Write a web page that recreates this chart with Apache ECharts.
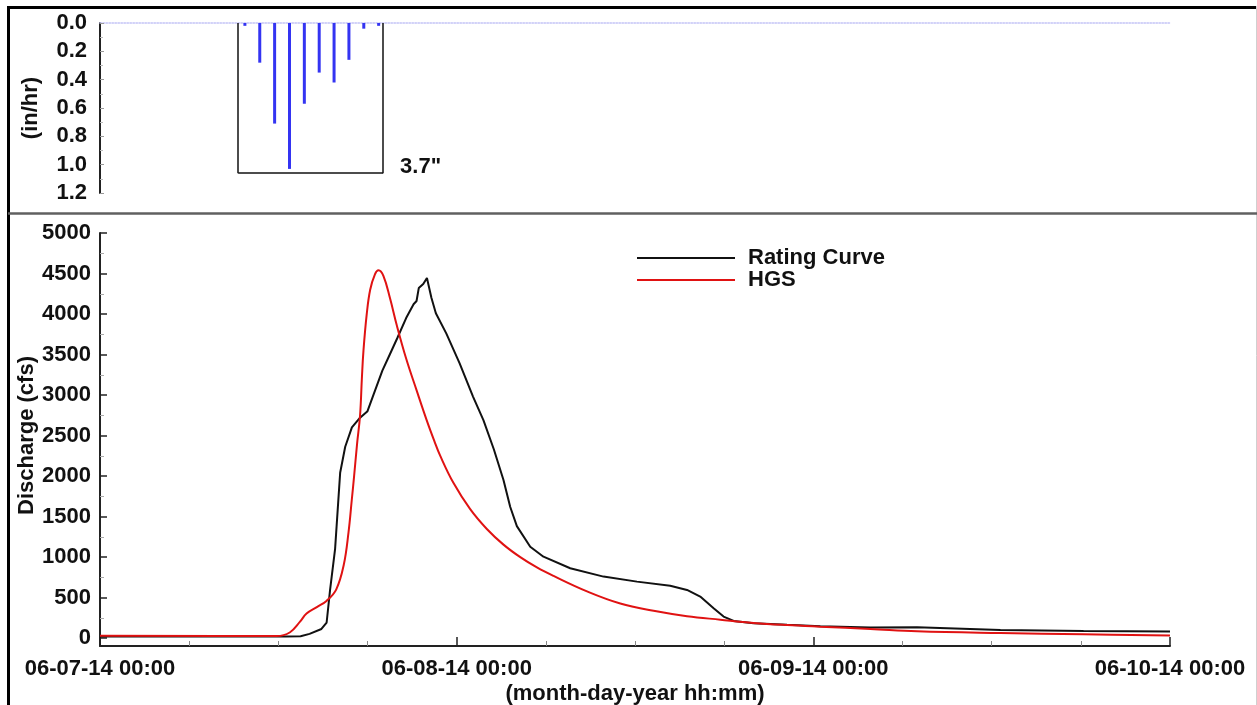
<!DOCTYPE html>
<html>
<head>
<meta charset="utf-8">
<title>Discharge and rainfall, June 7-10 2014</title>
<script src="https://cdn.jsdelivr.net/npm/echarts@6/dist/echarts.min.js"></script>
<style>
  html, body { margin: 0; padding: 0; background: #ffffff; }
  #chart { width: 1257px; height: 705px; }
</style>
</head>
<body>
<div id="chart"></div>
<script>
// ---- data -------------------------------------------------------------
// time is in hours after 06-07-14 00:00
const dayLabels = ['06-07-14 00:00', '06-08-14 00:00', '06-09-14 00:00', '06-10-14 00:00'];

// hourly rainfall intensity (in/hr)
const rainHours = [9.75, 10.75, 11.75, 12.75, 13.75, 14.75, 15.75, 16.75, 17.75, 18.75];
const rainRate  = [0.02, 0.28, 0.71, 1.03, 0.57, 0.35, 0.42, 0.26, 0.04, 0.02];

// storm window (hours) and bracket depth (in/hr)
const stormWindow = [9.3, 19.05];
const stormDepth = 1.06;

// discharge from the rating curve (cfs)
const ratingHours = [0, 12.5, 13.5, 14.1, 14.9, 15.25, 15.48, 15.82, 16.16, 16.5, 16.95, 17.5, 18.0, 18.4,
  19.0, 19.5, 20.0, 20.6, 21.1, 21.3, 21.45, 21.75, 22.0, 22.3, 22.6, 23.3, 24.2, 25.1, 25.8, 26.5,
  27.15, 27.6, 28.05, 28.95, 29.84, 31.64, 33.88, 36.13, 38.37, 39.5, 40.39, 41.29, 41.96, 42.64,
  43.98, 46.23, 48.47, 51.84, 54.98, 60.59, 66.18, 72];
const ratingFlow = [18, 18, 20, 50, 110, 190, 590, 1100, 2040, 2360, 2600, 2720, 2800, 3000,
  3300, 3500, 3700, 3950, 4120, 4160, 4320, 4370, 4445, 4200, 4010, 3760, 3390, 2980, 2690, 2330,
  1950, 1620, 1380, 1126, 1003, 860, 757, 695, 645, 592, 510, 366, 263, 210,
  181, 162, 145, 127, 132, 99, 86, 78];

// discharge simulated by HGS (cfs)
const hgsHours = [0, 11.9, 12.79, 13.46, 13.9, 14.59, 15.26, 15.9, 16.4, 16.72, 16.94, 17.1, 17.3, 17.5,
  17.62, 17.73, 17.95, 18.18, 18.5, 18.74, 19.07, 19.52, 19.97, 20.6, 21.3, 21.98, 22.5, 22.89,
  23.78, 24.91, 26.03, 27.15, 28.28, 29.4, 30.52, 32.77, 35.01, 37.25, 39.5, 41.74, 43.98, 46.23,
  48.47, 51.84, 54.98, 60.59, 66.18, 72];
const hgsFlow = [28, 22, 70, 200, 300, 380, 460, 600, 900, 1300, 1700, 2000, 2400, 2750,
  3200, 3550, 4000, 4300, 4490, 4540, 4470, 4190, 3860, 3450, 3060, 2690, 2430, 2250,
  1915, 1590, 1345, 1152, 997, 870, 765, 575, 425, 335, 268, 225, 185, 158,
  138, 111, 82, 60, 45, 30];

// ---- helpers ----------------------------------------------------------
const pairs = (xs, ys) => xs.map((x, i) => [x, ys[i]]);
const stormTotal = rainRate.reduce((s, v) => s + v, 0); // one-hour intervals

const FONT = '"Liberation Sans", Arial, Helvetica, sans-serif';
const txt = (size) => ({ fontFamily: FONT, fontWeight: 'bold', fontSize: size, color: '#111' });

const chart = echarts.init(document.getElementById('chart'), null, { renderer: 'canvas' });

const option = {
  backgroundColor: '#ffffff',
  animation: false,
  grid: [
    { left: 100, right: 87, top: 23, height: 170, outerBoundsMode: 'none' },   // rainfall
    { left: 100, right: 87, top: 233, bottom: 59, outerBoundsMode: 'none' },   // discharge (plot area)
    { left: 100, right: 87, top: 233, bottom: 67, outerBoundsMode: 'none' }    // discharge tick scale (0..5000)
  ],
  legend: {
    left: 632, top: 242, orient: 'vertical',
    icon: 'rect', itemWidth: 98, itemHeight: 2, itemGap: 0,
    textStyle: Object.assign(txt(22), { lineHeight: 22, padding: [0, 0, 0, 8] }),
    data: ['Rating Curve', 'HGS']
  },
  xAxis: [
    {
      gridIndex: 0, type: 'value', min: 0, max: 72, interval: 24,
      axisLine: { show: true, onZero: true, lineStyle: { color: '#c4c4f6', width: 1.5, type: 'dotted' } },
      axisTick: { show: false }, axisLabel: { show: false }, splitLine: { show: false }
    },
    {
      gridIndex: 1, type: 'value', min: 0, max: 72, interval: 24,
      name: '(month-day-year hh:mm)', nameLocation: 'middle', nameGap: 37,
      nameTextStyle: txt(22), nameMoveOverlap: false,
      axisLine: { onZero: false, lineStyle: { color: '#222', width: 2 } },
      axisTick: { inside: true, length: 9, lineStyle: { color: '#222', width: 1.5 } },
      minorTick: { show: true, splitNumber: 4, length: 5, lineStyle: { color: '#888', width: 1 } },
      axisLabel: Object.assign(txt(22), { margin: 12, formatter: v => dayLabels[Math.round(v / 24)] }),
      splitLine: { show: false }
    },
    {
      gridIndex: 2, type: 'value', min: 0, max: 72, show: false
    }
  ],
  yAxis: [
    {
      gridIndex: 0, type: 'value', inverse: true, min: 0, max: 1.2, interval: 0.2,
      name: '(in/hr)', nameLocation: 'middle', nameGap: 58, nameRotate: 90,
      nameTextStyle: txt(22), nameMoveOverlap: false,
      axisLine: { show: true, lineStyle: { color: '#222', width: 2 } },
      axisTick: { show: true, inside: true, length: 4, lineStyle: { color: '#999', width: 1 } },
      minorTick: { show: true, splitNumber: 2, length: 3, lineStyle: { color: '#bbb', width: 1 } },
      axisLabel: Object.assign(txt(22), { margin: 13, formatter: v => v.toFixed(1) }),
      splitLine: { show: false }
    },
    {
      gridIndex: 1, type: 'value', min: -100, max: 5000,
      axisLine: { show: true, onZero: false, lineStyle: { color: '#222', width: 2 } },
      axisTick: { show: false }, axisLabel: { show: false }, splitLine: { show: false }
    },
    {
      gridIndex: 2, type: 'value', min: 0, max: 5000, interval: 500,
      name: 'Discharge (cfs)', nameLocation: 'middle', nameGap: 62, nameRotate: 90,
      nameTextStyle: txt(22), nameMoveOverlap: false,
      axisLine: { show: false },
      axisTick: { show: true, inside: true, length: 7, lineStyle: { color: '#222', width: 1.5 } },
      minorTick: { show: true, splitNumber: 2, length: 4, lineStyle: { color: '#aaa', width: 1 } },
      axisLabel: Object.assign(txt(22), { margin: 9, formatter: v => String(v) }),
      splitLine: { show: false }
    }
  ],
  series: [
    {
      name: 'Rainfall', type: 'bar', xAxisIndex: 0, yAxisIndex: 0,
      data: pairs(rainHours, rainRate), barWidth: 3,
      itemStyle: { color: '#3434f2' },
      markLine: {
        silent: true, symbol: ['none', 'none'],
        lineStyle: { color: '#111', width: 1.5, type: 'solid' },
        label: { show: false },
        data: [
          [{ coord: [stormWindow[0], 0] }, { coord: [stormWindow[0], stormDepth] }],
          [{ coord: [stormWindow[0], stormDepth] }, { coord: [stormWindow[1], stormDepth],
            label: Object.assign(txt(22), { show: true, position: 'end', distance: 17,
              verticalAlign: 'bottom', lineHeight: 12, formatter: stormTotal.toFixed(1) + '"' }) }],
          [{ coord: [stormWindow[1], stormDepth] }, { coord: [stormWindow[1], 0] }]
        ]
      }
    },
    {
      name: 'Rating Curve', type: 'line', xAxisIndex: 1, yAxisIndex: 1,
      data: pairs(ratingHours, ratingFlow),
      showSymbol: false, symbol: 'none', clip: true,
      color: '#111111', lineStyle: { color: '#111111', width: 2 }
    },
    {
      name: 'HGS', type: 'line', xAxisIndex: 1, yAxisIndex: 1,
      data: pairs(hgsHours, hgsFlow),
      showSymbol: false, symbol: 'none', smooth: 0.4, clip: true,
      color: '#e01212', lineStyle: { color: '#e01212', width: 2 }
    }
  ],
  graphic: [
    // outer frame and panel divider
    { type: 'line', shape: { x1: 8.5, y1: 6, x2: 8.5, y2: 705 }, style: { stroke: '#000', lineWidth: 3 }, silent: true },
    { type: 'line', shape: { x1: 7, y1: 7.5, x2: 1257, y2: 7.5 }, style: { stroke: '#000', lineWidth: 3 }, silent: true },
    { type: 'line', shape: { x1: 1256.5, y1: 6, x2: 1256.5, y2: 705 }, style: { stroke: '#d0d0d0', lineWidth: 1 }, silent: true },
    { type: 'line', shape: { x1: 8, y1: 213.5, x2: 1257, y2: 213.5 }, style: { stroke: '#606060', lineWidth: 2.5 }, silent: true }
  ]
};

chart.setOption(option);
</script>
</body>
</html>
